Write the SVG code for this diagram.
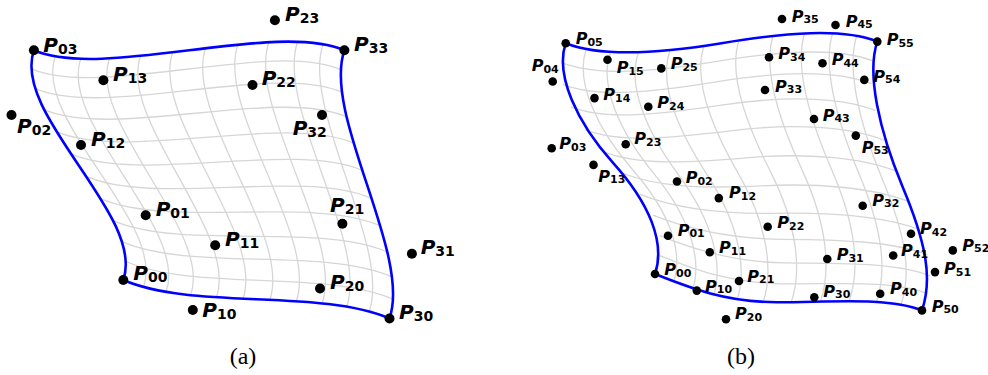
<svg xmlns="http://www.w3.org/2000/svg" width="988" height="375" viewBox="0 0 988 375">
<style>
.grid{fill:none;stroke:#d6d6d6;stroke-width:1.3}
.edge{fill:none;stroke:#0000ff;stroke-width:2.6;stroke-linejoin:round}
.da{fill:#000}
.la{font-family:"DejaVu Sans",sans-serif;font-weight:bold;font-style:italic;font-size:20px;fill:#000}
.la tspan{font-style:normal;font-size:14px}
.lb{font-family:"DejaVu Sans",sans-serif;font-weight:bold;font-style:italic;font-size:16px;fill:#000}
.lb tspan{font-style:normal;font-size:11px}
.cap{font-family:"Liberation Serif","DejaVu Serif",serif;font-size:24px;text-anchor:middle;fill:#000}
</style>
<rect width="988" height="375" fill="#fff"/>
<g id="connectors">
<g id="grid-a" class="grid">
<path d="M143.6,287.0 C166.0,222.3 32.8,121.1 55.2,56.4"/>
<path d="M166.2,291.9 C188.6,227.2 58.3,123.5 80.7,58.8"/>
<path d="M190.7,295.1 C213.1,230.4 87.0,123.1 109.4,58.4"/>
<path d="M216.5,297.3 C238.9,232.6 118.0,120.7 140.4,56.0"/>
<path d="M243.0,298.7 C265.4,234.0 150.3,117.0 172.7,52.3"/>
<path d="M269.8,299.8 C292.2,235.1 183.2,113.0 205.6,48.3"/>
<path d="M296.3,301.3 C318.7,236.6 215.5,109.3 237.9,44.6"/>
<path d="M322.1,303.4 C344.5,238.7 246.5,106.9 268.9,42.2"/>
<path d="M346.6,306.6 C369.0,241.9 275.2,106.5 297.6,41.8"/>
<path d="M369.2,311.5 C391.6,246.8 300.7,108.9 323.1,44.2"/>
<path d="M125.8,261.5 C195.3,291.5 323.5,269.1 393.0,299.1"/>
<path d="M121.9,241.6 C191.4,271.6 322.4,246.8 391.9,276.8"/>
<path d="M113.0,220.6 C182.5,250.6 317.8,222.0 387.3,252.0"/>
<path d="M100.7,198.7 C170.2,228.7 310.7,195.7 380.2,225.7"/>
<path d="M86.2,176.4 C155.7,206.4 302.0,168.3 371.5,198.3"/>
<path d="M71.0,153.9 C140.5,183.9 292.9,140.5 362.4,170.5"/>
<path d="M56.5,131.6 C126.0,161.6 284.2,113.2 353.7,143.2"/>
<path d="M44.2,109.7 C113.7,139.7 277.1,86.8 346.6,116.8"/>
<path d="M35.3,88.7 C104.8,118.7 272.5,62.1 342.0,92.1"/>
<path d="M31.4,68.8 C100.9,98.8 271.4,39.7 340.9,69.7"/>
</g>
<path id="boundary-a" class="edge" d="M123.3,280 C192.8,310 320,288.5 389.5,318.5 C411.9,253.8 322,115 344.4,50.3 C274.9,20.3 103.4,80.3 33.9,50.3 C11.5,115 145.7,215.3 123.3,280 Z"/>
<g id="grid-b" class="grid">
<path d="M673.45,282.11 C684.28,250.19 667.67,209.53 632.25,169.25 C596.83,128.97 575.22,81.67 586.05,49.75"/>
<path d="M692.36,290 C703.19,258.08 688.32,215.71 653.87,173.63 C619.42,131.55 599.18,85.40 610.01,53.48"/>
<path d="M713.28,296.25 C724.11,264.33 711.72,219.95 678.82,175.37 C645.92,130.79 627.28,85.70 638.11,53.78"/>
<path d="M736.90,300.27 C747.73,268.35 738.06,222.22 707.13,174.85 C676.20,127.48 659.03,82.93 669.86,51.01"/>
<path d="M763.13,302.05 C773.96,270.13 766.79,223.02 737.99,172.94 C709.19,122.86 693.22,78.00 704.05,46.08"/>
<path d="M791.31,302.14 C802.14,270.22 796.88,223.28 770.10,170.80 C743.32,118.32 728.28,72.24 739.11,40.32"/>
<path d="M820.45,301.39 C831.28,269.47 827.02,223.90 801.92,169.61 C776.82,115.32 762.49,67.11 773.32,35.19"/>
<path d="M849.28,300.82 C860.11,268.90 855.90,225.80 831.92,170.33 C807.94,114.86 794.19,63.96 805.02,32.04"/>
<path d="M876.52,301.53 C887.35,269.61 882.35,229.58 858.91,173.58 C835.47,117.58 822.23,63.82 833.06,31.90"/>
<path d="M901.05,304.48 C911.88,272.56 905.72,235.38 882.34,179.31 C858.96,123.24 846.15,67.14 856.98,35.22"/>
<path d="M659.74,255.53 C694.57,269.36 730.93,283.42 782.93,283.86 C834.93,284.30 892.69,279.79 927.52,293.62"/>
<path d="M659.64,235.68 C694.47,249.51 732.94,262.20 785.75,262.95 C838.56,263.70 895.12,261.99 929.95,275.82"/>
<path d="M652.98,215.21 C687.81,229.04 728.84,238.92 783.00,239.30 C837.16,239.68 892.61,240.98 927.44,254.81"/>
<path d="M640.01,194.41 C674.84,208.24 718.49,214.21 774.43,213.33 C830.37,212.45 885.16,216.13 919.99,229.96"/>
<path d="M622.50,173.27 C657.33,187.10 703.46,188.68 761.43,185.82 C819.40,182.96 874.03,187.85 908.86,201.68"/>
<path d="M603.13,151.67 C637.96,165.50 686.40,163.08 746.40,157.86 C806.40,152.64 861.33,157.39 896.16,171.22"/>
<path d="M584.98,129.54 C619.81,143.37 670.41,138.12 732.21,130.59 C794.01,123.06 849.46,126.42 884.29,140.25"/>
<path d="M570.87,106.94 C605.70,120.77 658.34,114.37 721.52,105.03 C784.70,95.69 840.69,96.73 875.52,110.56"/>
<path d="M562.83,84.31 C597.66,98.14 652.17,92.30 716.20,81.88 C780.23,71.46 836.58,69.88 871.41,83.71"/>
<path d="M561.53,62.55 C596.36,76.38 652.35,72.15 716.73,61.42 C781.11,50.69 837.59,46.88 872.42,60.71"/>
</g>
<path id="boundary-b" class="edge" d="M655,274 C689.83,287.83 725.28,302.16 777.04,302.27 C828.80,302.38 887.17,296.57 922,310.4 C932.83,278.48 926.04,242.62 902.56,186.63 C879.08,130.64 866.47,73.52 877.3,41.6 C842.47,27.77 786.03,32.54 721.6,43.21 C657.17,53.88 600.53,57.03 565.7,43.2 C554.87,75.12 577.13,122.96 612.85,162.54 C648.57,202.12 665.83,242.08 655,274 Z"/>
</g>
<g id="nodes-a">
<g id="a-P00"><circle class="da" cx="123.3" cy="280" r="5"/><text class="la" x="133.3" y="280">P<tspan dy="2">00</tspan></text></g>
<g id="a-P10"><circle class="da" cx="192.8" cy="310" r="5"/><text class="la" x="202.3" y="317">P<tspan dy="2">10</tspan></text></g>
<g id="a-P20"><circle class="da" cx="320" cy="288.5" r="5"/><text class="la" x="330" y="288.5">P<tspan dy="2">20</tspan></text></g>
<g id="a-P30"><circle class="da" cx="389.5" cy="318.5" r="5"/><text class="la" x="399" y="319">P<tspan dy="2">30</tspan></text></g>
<g id="a-P01"><circle class="da" cx="145.7" cy="215.3" r="5"/><text class="la" x="155.7" y="216">P<tspan dy="2">01</tspan></text></g>
<g id="a-P11"><circle class="da" cx="215.2" cy="245.3" r="5"/><text class="la" x="225" y="246">P<tspan dy="2">11</tspan></text></g>
<g id="a-P21"><circle class="da" cx="342.4" cy="223.8" r="5"/><text class="la" x="330" y="212">P<tspan dy="2">21</tspan></text></g>
<g id="a-P31"><circle class="da" cx="411.9" cy="253.8" r="5"/><text class="la" x="420.7" y="254">P<tspan dy="2">31</tspan></text></g>
<g id="a-P02"><circle class="da" cx="11.5" cy="115" r="5"/><text class="la" x="17" y="133">P<tspan dy="2">02</tspan></text></g>
<g id="a-P12"><circle class="da" cx="81" cy="145" r="5"/><text class="la" x="91" y="146">P<tspan dy="2">12</tspan></text></g>
<g id="a-P22"><circle class="da" cx="252.5" cy="85" r="5"/><text class="la" x="261.7" y="84.5">P<tspan dy="2">22</tspan></text></g>
<g id="a-P32"><circle class="da" cx="322" cy="115" r="5"/><text class="la" x="292.7" y="135">P<tspan dy="2">32</tspan></text></g>
<g id="a-P03"><circle class="da" cx="33.9" cy="50.3" r="5"/><text class="la" x="43.3" y="52">P<tspan dy="2">03</tspan></text></g>
<g id="a-P13"><circle class="da" cx="103.4" cy="80.3" r="5"/><text class="la" x="113" y="80.5">P<tspan dy="2">13</tspan></text></g>
<g id="a-P23"><circle class="da" cx="274.9" cy="20.3" r="5"/><text class="la" x="285" y="20.5">P<tspan dy="2">23</tspan></text></g>
<g id="a-P33"><circle class="da" cx="344.4" cy="50.3" r="5"/><text class="la" x="354" y="51">P<tspan dy="2">33</tspan></text></g>
</g>
<g id="nodes-b">
<g id="b-P00"><circle class="da" cx="655" cy="274" r="4.3"/><text class="lb" x="664.3" y="275">P<tspan dy="1.5">00</tspan></text></g>
<g id="b-P10"><circle class="da" cx="696.8" cy="290.6" r="4.3"/><text class="lb" x="705" y="291.7">P<tspan dy="1.5">10</tspan></text></g>
<g id="b-P20"><circle class="da" cx="726" cy="319.3" r="4.3"/><text class="lb" x="735" y="319.3">P<tspan dy="1.5">20</tspan></text></g>
<g id="b-P30"><circle class="da" cx="814.3" cy="297.3" r="4.3"/><text class="lb" x="823.3" y="296.7">P<tspan dy="1.5">30</tspan></text></g>
<g id="b-P40"><circle class="da" cx="880.2" cy="293.8" r="4.3"/><text class="lb" x="890" y="294">P<tspan dy="1.5">40</tspan></text></g>
<g id="b-P50"><circle class="da" cx="922" cy="310.4" r="4.3"/><text class="lb" x="931.7" y="311.7">P<tspan dy="1.5">50</tspan></text></g>
<g id="b-P01"><circle class="da" cx="668" cy="235.7" r="4.3"/><text class="lb" x="677.7" y="235.7">P<tspan dy="1.5">01</tspan></text></g>
<g id="b-P11"><circle class="da" cx="709.8" cy="252.3" r="4.3"/><text class="lb" x="719" y="253.3">P<tspan dy="1.5">11</tspan></text></g>
<g id="b-P21"><circle class="da" cx="739" cy="281" r="4.3"/><text class="lb" x="747.3" y="281.7">P<tspan dy="1.5">21</tspan></text></g>
<g id="b-P31"><circle class="da" cx="827.3" cy="259" r="4.3"/><text class="lb" x="836.7" y="260">P<tspan dy="1.5">31</tspan></text></g>
<g id="b-P41"><circle class="da" cx="893.2" cy="255.5" r="4.3"/><text class="lb" x="901" y="256">P<tspan dy="1.5">41</tspan></text></g>
<g id="b-P51"><circle class="da" cx="935" cy="272.1" r="4.3"/><text class="lb" x="944" y="274">P<tspan dy="1.5">51</tspan></text></g>
<g id="b-P02"><circle class="da" cx="677" cy="181.5" r="4.3"/><text class="lb" x="685.7" y="183.3">P<tspan dy="1.5">02</tspan></text></g>
<g id="b-P12"><circle class="da" cx="718.8" cy="198.1" r="4.3"/><text class="lb" x="729" y="198.3">P<tspan dy="1.5">12</tspan></text></g>
<g id="b-P22"><circle class="da" cx="767.7" cy="226.7" r="4.3"/><text class="lb" x="777.3" y="228.3">P<tspan dy="1.5">22</tspan></text></g>
<g id="b-P32"><circle class="da" cx="862.7" cy="205.7" r="4.3"/><text class="lb" x="872.3" y="205.7">P<tspan dy="1.5">32</tspan></text></g>
<g id="b-P42"><circle class="da" cx="911" cy="233.8" r="4.3"/><text class="lb" x="920" y="234">P<tspan dy="1.5">42</tspan></text></g>
<g id="b-P52"><circle class="da" cx="952.8" cy="250.4" r="4.3"/><text class="lb" x="962.3" y="250.7">P<tspan dy="1.5">52</tspan></text></g>
<g id="b-P03"><circle class="da" cx="551.7" cy="148.3" r="4.3"/><text class="lb" x="559.3" y="149">P<tspan dy="1.5">03</tspan></text></g>
<g id="b-P13"><circle class="da" cx="593.5" cy="164.9" r="4.3"/><text class="lb" x="598.3" y="181.7">P<tspan dy="1.5">13</tspan></text></g>
<g id="b-P23"><circle class="da" cx="625.7" cy="144.3" r="4.3"/><text class="lb" x="634.3" y="144">P<tspan dy="1.5">23</tspan></text></g>
<g id="b-P33"><circle class="da" cx="765" cy="90" r="4.3"/><text class="lb" x="775" y="91.7">P<tspan dy="1.5">33</tspan></text></g>
<g id="b-P43"><circle class="da" cx="814" cy="119" r="4.3"/><text class="lb" x="822.7" y="120.7">P<tspan dy="1.5">43</tspan></text></g>
<g id="b-P53"><circle class="da" cx="855.8" cy="135.6" r="4.3"/><text class="lb" x="861.7" y="152.7">P<tspan dy="1.5">53</tspan></text></g>
<g id="b-P04"><circle class="da" cx="552.7" cy="81.5" r="4.3"/><text class="lb" x="531.7" y="71">P<tspan dy="1.5">04</tspan></text></g>
<g id="b-P14"><circle class="da" cx="594.5" cy="98.1" r="4.3"/><text class="lb" x="603.3" y="100">P<tspan dy="1.5">14</tspan></text></g>
<g id="b-P24"><circle class="da" cx="648.3" cy="106.7" r="4.3"/><text class="lb" x="657.3" y="108.3">P<tspan dy="1.5">24</tspan></text></g>
<g id="b-P34"><circle class="da" cx="769" cy="57.3" r="4.3"/><text class="lb" x="778.3" y="59">P<tspan dy="1.5">34</tspan></text></g>
<g id="b-P44"><circle class="da" cx="822.5" cy="63.3" r="4.3"/><text class="lb" x="831.7" y="65">P<tspan dy="1.5">44</tspan></text></g>
<g id="b-P54"><circle class="da" cx="864.3" cy="79.9" r="4.3"/><text class="lb" x="873.3" y="81.7">P<tspan dy="1.5">54</tspan></text></g>
<g id="b-P05"><circle class="da" cx="565.7" cy="43.2" r="4.3"/><text class="lb" x="575.7" y="44.3">P<tspan dy="1.5">05</tspan></text></g>
<g id="b-P15"><circle class="da" cx="607.5" cy="59.8" r="4.3"/><text class="lb" x="616.7" y="73.3">P<tspan dy="1.5">15</tspan></text></g>
<g id="b-P25"><circle class="da" cx="661.3" cy="68.4" r="4.3"/><text class="lb" x="670.7" y="69">P<tspan dy="1.5">25</tspan></text></g>
<g id="b-P35"><circle class="da" cx="782" cy="19" r="4.3"/><text class="lb" x="791.7" y="21.7">P<tspan dy="1.5">35</tspan></text></g>
<g id="b-P45"><circle class="da" cx="835.5" cy="25" r="4.3"/><text class="lb" x="845.7" y="26.7">P<tspan dy="1.5">45</tspan></text></g>
<g id="b-P55"><circle class="da" cx="877.3" cy="41.6" r="4.3"/><text class="lb" x="886.7" y="45">P<tspan dy="1.5">55</tspan></text></g>
</g>
<g id="captions">
<text class="cap" x="243" y="364">(a)</text>
<text class="cap" x="741" y="364">(b)</text>
</g>
</svg>
